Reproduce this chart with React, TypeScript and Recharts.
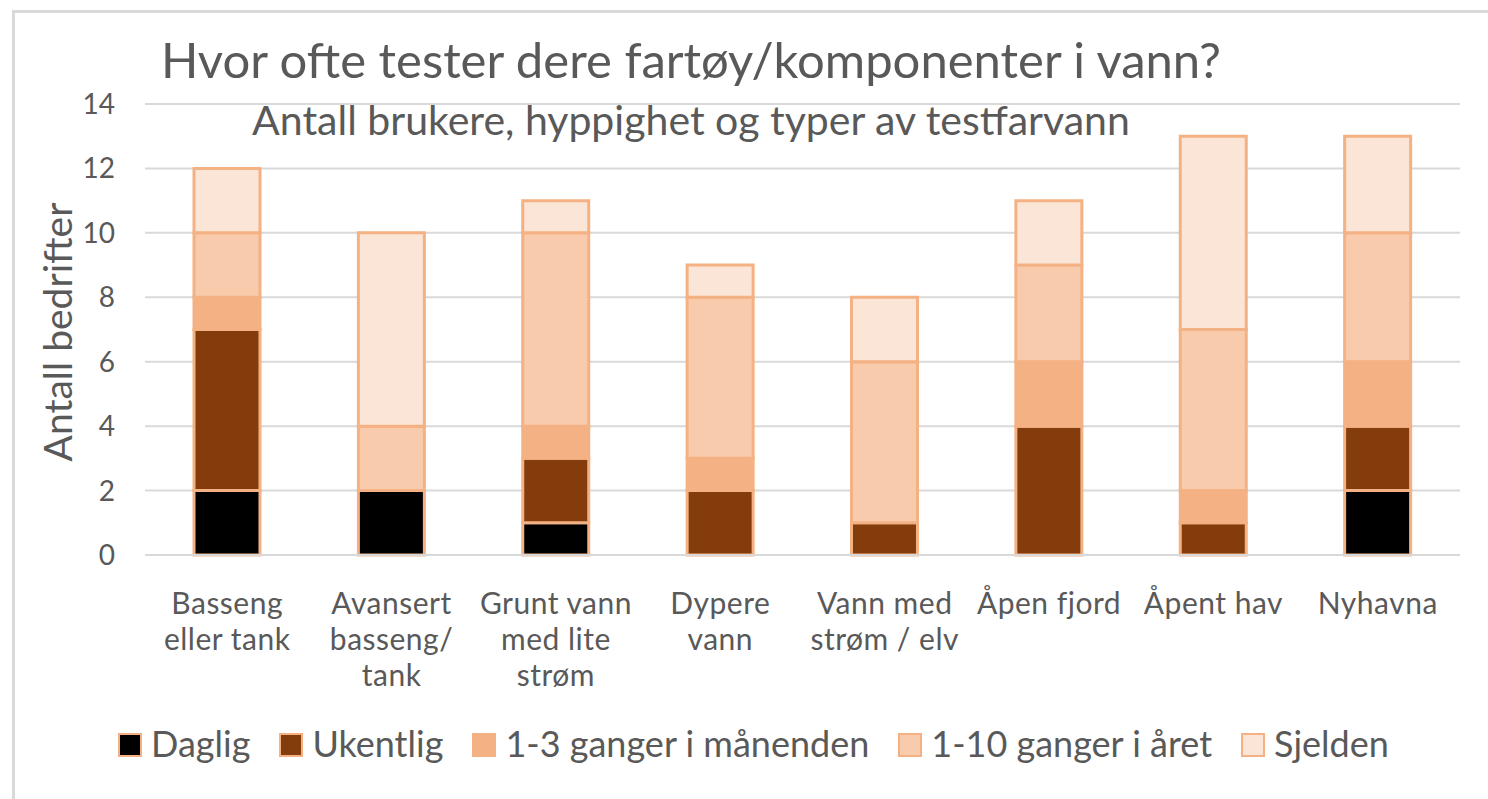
import { BarChart, Bar, XAxis, YAxis, CartesianGrid } from "recharts";

const CATEGORIES = [
    "Basseng\neller tank",
    "Avansert\nbasseng/\ntank",
    "Grunt vann\nmed lite\nstrøm",
    "Dypere\nvann",
    "Vann med\nstrøm / elv",
    "Åpen fjord",
    "Åpent hav",
    "Nyhavna",
];

const DAGLIG = [2, 2, 1, 0, 0, 0, 0, 2];
const UKENTLIG = [5, 0, 2, 2, 1, 4, 1, 2];
const MAANEDLIG = [1, 0, 1, 1, 0, 2, 1, 2];
const AARLIG = [2, 2, 6, 5, 5, 3, 5, 4];
const SJELDEN = [2, 6, 1, 1, 2, 2, 6, 3];

const Y_TICKS = [0, 2, 4, 6, 8, 10, 12, 14];

const SERIES = [
    { key: "daglig", name: "Daglig", values: DAGLIG, color: "#000000" },
    { key: "ukentlig", name: "Ukentlig", values: UKENTLIG, color: "#843C0C" },
    { key: "maanedlig", name: "1-3 ganger i månenden", values: MAANEDLIG, color: "#F4B183" },
    { key: "aarlig", name: "1-10 ganger i året", values: AARLIG, color: "#F8CBAD" },
    { key: "sjelden", name: "Sjelden", values: SJELDEN, color: "#FBE5D6" },
];

const TEXT = "#595959";
const GRID = "#d9d9d9";
const EDGE = "#F4B183";
const FONT = "Lato, 'Noto Sans', sans-serif";

const chartData = CATEGORIES.map((category, i) => {
    const row: Record<string, string | number> = { category };
    SERIES.forEach((s) => {
        row[s.key] = s.values[i];
    });
    return row;
});

// category names are split on \n, one <text> per line
const CategoryTick = (props: any) => {
    const { x, y, payload } = props;
    const lines = String(payload.value).split("\n");
    return (
        <g>
            {lines.map((line, i) => (
                <text
                    key={i}
                    x={x}
                    y={y + 51 + i * 36}
                    textAnchor="middle"
                    fill={TEXT}
                    fontSize={30}
                    letterSpacing={0.5}
                    fontFamily={FONT}
                >
                    {line}
                </text>
            ))}
        </g>
    );
};

export default function App() {
    return (
        <div
            style={{
                position: "absolute",
                left: 0,
                top: 0,
                width: 1488,
                height: 799,
                overflow: "hidden",
                background: "#ffffff",
                fontFamily: FONT,
            }}
        >
            {/* chart frame, only top and left edges are visible in the crop */}
            <div
                style={{
                    position: "absolute",
                    left: 12,
                    top: 10,
                    width: 1600,
                    height: 900,
                    borderTop: `3px solid ${GRID}`,
                    borderLeft: `3px solid ${GRID}`,
                }}
            />

            <BarChart
                width={1488}
                height={799}
                data={chartData}
                margin={{ top: 104, right: 28, left: 45, bottom: 184 }}
                style={{ position: "absolute", left: 0, top: 0 }}
            >
                <CartesianGrid vertical={false} stroke={GRID} strokeWidth={2} />
                <XAxis
                    dataKey="category"
                    interval={0}
                    tickLine={false}
                    axisLine={{ stroke: GRID, strokeWidth: 2 }}
                    tick={CategoryTick}
                    height={60}
                />
                <YAxis
                    domain={[0, 14]}
                    ticks={Y_TICKS}
                    width={100}
                    tickLine={false}
                    axisLine={false}
                    tickSize={0}
                    tickMargin={30}
                    tick={{ fill: TEXT, fontSize: 28, fontFamily: FONT }}
                />
                {SERIES.map((s) => (
                    <Bar
                        key={s.key}
                        dataKey={s.key}
                        name={s.name}
                        stackId="a"
                        fill={s.color}
                        stroke={EDGE}
                        strokeWidth={3}
                        barSize={66}
                        isAnimationActive={false}
                    />
                ))}
            </BarChart>

            {/* titles */}
            <div
                style={{
                    position: "absolute",
                    left: 0,
                    top: 35,
                    width: 1382,
                    textAlign: "center",
                    fontSize: 49,
                    lineHeight: 1,
                    color: TEXT,
                    whiteSpace: "nowrap",
                }}
            >
                Hvor ofte tester dere fartøy/komponenter i vann?
            </div>
            <div
                style={{
                    position: "absolute",
                    left: 0,
                    top: 99,
                    width: 1382,
                    textAlign: "center",
                    fontSize: 41,
                    lineHeight: 1,
                    color: TEXT,
                    whiteSpace: "nowrap",
                }}
            >
                Antall brukere, hyppighet og typer av testfarvann
            </div>

            {/* y axis title */}
            <div
                style={{
                    position: "absolute",
                    left: 57,
                    top: 332,
                    transform: "translate(-50%, -50%) rotate(-90deg)",
                    fontSize: 39,
                    lineHeight: 1,
                    color: TEXT,
                    whiteSpace: "nowrap",
                }}
            >
                Antall bedrifter
            </div>

            {/* legend */}
            <div
                style={{
                    position: "absolute",
                    left: 118,
                    top: 725,
                    display: "flex",
                    alignItems: "flex-start",
                    gap: 29,
                    fontSize: 36,
                    lineHeight: 1,
                    color: TEXT,
                    whiteSpace: "nowrap",
                }}
            >
                {SERIES.map((s) => (
                    <div key={s.key} style={{ display: "flex", alignItems: "flex-start", gap: 9 }}>
                        <div
                            style={{
                                width: 20,
                                height: 20,
                                marginTop: 8,
                                background: s.color,
                                border: `2.5px solid ${EDGE}`,
                            }}
                        />
                        <span>{s.name}</span>
                    </div>
                ))}
            </div>
        </div>
    );
}
